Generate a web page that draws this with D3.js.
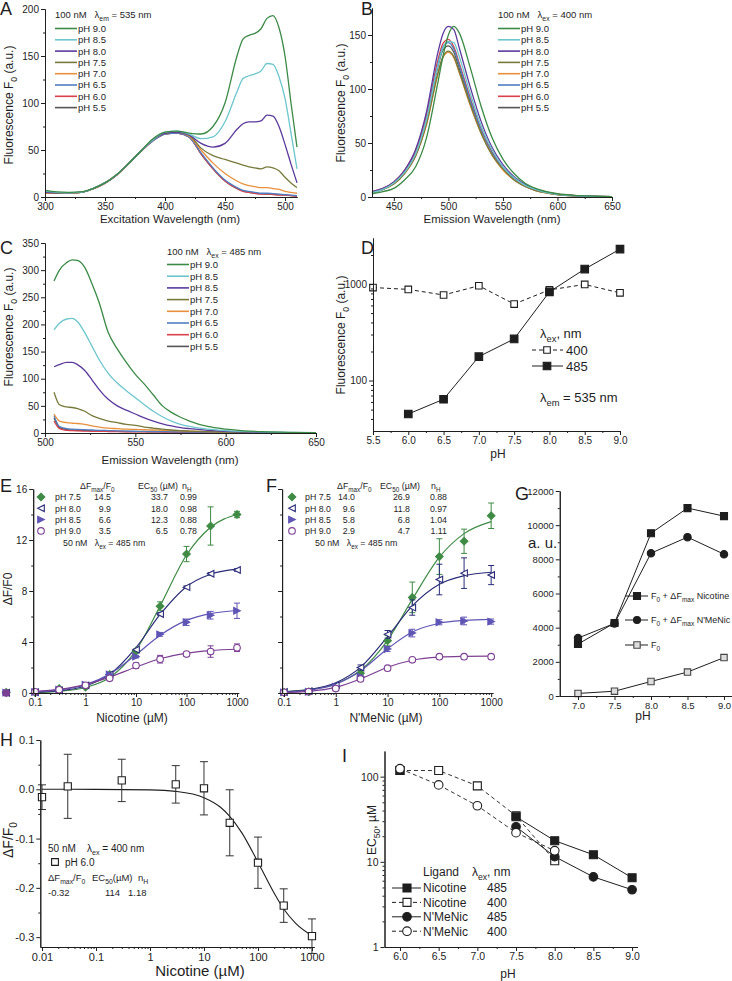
<!DOCTYPE html>
<html>
<head>
<meta charset="utf-8">
<script src="https://cdn.jsdelivr.net/npm/d3@7"></script>
<style>
  html, body { margin: 0; padding: 0; background: #fff; }
  svg text { font-family: "Liberation Sans", Arial, sans-serif; fill: #1e1e1e; white-space: pre; }
</style>
</head>
<body>
<svg id="fig" width="732" height="981"></svg>
<script>
'use strict';

/* ---------- data ---------- */
const specLabels  = ['pH 9.0', 'pH 8.5', 'pH 8.0', 'pH 7.5', 'pH 7.0', 'pH 6.5', 'pH 6.0', 'pH 5.5'];
const specLabelsC = ['pH 9.0', 'pH 8.5', 'pH 8.5', 'pH 7.5', 'pH 7.0', 'pH 6.5', 'pH 6.0', 'pH 5.5'];
const specColors  = ['#3b8a46', '#6cc6cc', '#5b3a9c', '#787a3a', '#e8903c', '#4f7ec2', '#d9424c', '#555555'];

// A: excitation spectra, em 535 nm
const exWl = [300,310,320,330,340,350,360,370,380,390,400,410,420,430,440,450,460,465,470,475,480,485,490,495,500,505,510];
const exA90 = [7,5.5,5,5.5,9,15,24,36,49,62,69,70,68,67,75,100,150,168,172,174,179,190,193,180,150,100,53];
const exA85 = [6,5,4.5,5,9,15,24,36,49,61,69,70,67,62,64,80,112,126,129,131,134,142,141,128,105,68,30];
const exA80 = [5,4.5,4.5,5,9,15,24,36,49,61,68,69,66,57,53,57,72,78,80,80,81,87,86,75,56,35,15];
const exA75 = [5,4.5,4.5,5,9,15,24,36,49,61,68,69,66,52,44,40,36,34,32,31,30,32,31,28,21,15,10];
const exA70 = [4,4,4,5,8.5,15,24,36,49,61,68,69,65,50,36,25,17,14,12,11,10,10,9,8,6,5,4];
const exA65 = [5,4.5,4.5,5,9,15,24,36,49,60,67,68,64,47,31,18,10,7,6,5,4,4,3.5,3,2.5,2,1.5];
const exA60 = [4,4,4,5,8.5,14.5,23.5,35.5,48.5,60,67,68,64,46,30,17,9,6,5,4,3,3,2.5,2,2,1.5,1];
const exA55 = [5,4.5,4.5,5,9,15,24,36,49,60,67,68,64,46,30,17,9,6.5,5,4,3.5,3,3,2.5,2,1.5,1];

// B: emission spectra, ex 400 nm
const emWlB = [430,440,450,460,470,480,490,495,500,505,510,520,530,540,550,560,570,580,590,600,620,650];
const emB90 = [3,5,8,16,28,55,104,130,150,158,152,120,84,55,35,22,13,8,5,3,1.3,0.3];
const emB85 = [4,7,13,23,40,72,120,138,144,143,130,96,66,44,28,18,11,7,4,2.5,1,0.3];
const emB80 = [5,8,14,25,44,79,132,151,158,155,138,102,70,46,30,19,12,7,4.5,2.7,1.1,0.3];
const emB75 = [4,7,12,22,38,68,113,130,135,130,116,86,59,39,26,16,10,6,3.8,2.3,1,0.3];
const emB70 = [4,7,12,22,38,67,112,129,134,129,115,85,59,39,25,16,10,6,3.7,2.3,1,0.3];
const emB65 = [4,7,13,23,40,72,121,139,143,137,122,90,62,41,27,17,10.5,6.4,4,2.4,1,0.3];
const emB60 = [5,8,14,25,43,76,125,142,146,139,124,92,63,42,27,17,10.5,6.5,4,2.4,1,0.3];
const emB55 = [4,7,13,23,40,71,119,136,140,134,119,88,61,40,26,16.5,10,6.2,3.9,2.3,1,0.3];

// C: emission spectra, ex 485 nm
const emWlC = [505,508,512,515,518,522,526,530,535,540,545,550,555,560,565,570,575,580,590,600,610,620,635,650];
const emC90 = [280,300,314,319,318,305,275,240,185,155,130,108,90,70,50,38,29,22,12,7,4,2.5,1.2,0.5];
const emC85 = [190,202,210,211,205,185,160,135,110,92,78,65,52,40,30,22,16,12,7,4.5,3,2,1,0.4];
const emC80 = [122,126,130,130,126,115,98,80,62,50,42,35,28,22,17,13,10,8,5,3,2,1.3,0.7,0.3];
const emC75 = [75,52,48,47,45,40,32,27,22,19,16,14,11,9,7,5.5,4.5,3.5,2.5,1.8,1.2,0.8,0.5,0.2];
const emC70 = [35,22,19,18,17.5,16,13,11,9,8,7,6.5,6,5.5,5,4.5,4,3.5,2.5,2,1.5,1,0.6,0.3];
const emC65 = [32,12,8,7,6.5,6,5.5,5,4.5,4,3.5,3.2,3,2.8,2.5,2.3,2,1.8,1.5,1.2,1,0.8,0.5,0.3];
const emC60 = [22,8,5,4.5,4,3.5,3,3,2.8,2.5,2.3,2.2,2,2,1.8,1.7,1.5,1.4,1.2,1,0.8,0.6,0.4,0.2];
const emC55 = [28,10,6,5.5,5,4.5,4,3.5,3.2,3,2.8,2.6,2.4,2.2,2,1.9,1.7,1.6,1.3,1.1,0.9,0.7,0.4,0.2];

// D: F0 vs pH (em 535 nm)
const dPh  = [5.5,6.0,6.5,7.0,7.5,8.0,8.5,9.0];
const d400 = [920,880,770,960,620,870,990,810];
const d485 = [null,45,64,177,270,830,1430,2300];

// E / F: dose response
const conc = [0.1,0.3,1,3,10,30,100,300,1000];
const nic75 = [0.05,0.35,0.45,1.45,3.3,6.8,10.9,13.1,14.0];
const nic80 = [0.06,0.2,0.6,1.45,3.4,6.2,8.3,9.35,9.65];
const nic85 = [0.08,0.25,0.65,1.45,2.85,4.6,5.55,6.1,6.45];
const nic90 = [0.1,0.25,0.6,1.15,2.15,2.65,3.05,3.25,3.55];
const nic75Err = [0,0,0,0.1,0.15,0.35,0.6,1.5,0.25];
const nic80Err = [0,0,0,0,0,0.1,0.1,0.1,0.1];
const nic85Err = [0,0,0,0,0.1,0.15,0.25,0.3,0.6];
const nic90Err = [0,0,0,0.1,0.2,0.3,0.15,0.45,0.3];
const nicFit75 = [0.046,0.134,0.43,1.21,3.35,6.83,10.82,13.0,14.0];
const nicFit80 = [0.061,0.176,0.55,1.46,3.56,6.16,8.34,9.31,9.71];
const nicFit85 = [0.094,0.242,0.65,1.48,3.0,4.53,5.70,6.23,6.47];
const nicFit90 = [0.13,0.29,0.66,1.24,2.04,2.69,3.13,3.33,3.43];
const nicZero = [0.05,0.02,0.03,0.0];

const mn75 = [0.05,0.1,0.4,1.55,4.1,7.5,10.7,11.9,13.9];
const mn80 = [0.08,0.15,0.6,2.0,4.6,6.7,8.9,9.4,9.25];
const mn85 = [0.05,0.1,0.5,1.3,3.45,4.7,5.55,5.65,5.6];
const mn90 = [0.05,0.1,0.35,1.1,1.95,2.6,2.85,2.85,2.85];
const mn75Err = [0,0,0,0.2,0.4,1.2,1.4,0.95,1.0];
const mn80Err = [0,0,0,0.2,0.3,0.6,1.2,1.2,0.75];
const mn85Err = [0,0,0,0.1,0.2,0.3,0.2,0.3,0.2];
const mn90Err = [0,0,0,0,0,0.1,0.1,0.1,0.1];
const mnFit75 = [0.10,0.26,0.73,1.77,4.13,7.34,10.65,12.5,13.44];
const mnFit80 = [0.093,0.265,0.80,2.01,4.42,6.83,8.53,9.2,9.47];
const mnFit85 = [0.071,0.217,0.69,1.74,3.47,4.78,5.47,5.69,5.77];
const mnFit90 = [0.04,0.13,0.44,1.10,2.02,2.57,2.81,2.87,2.89];

const doseLabels = ['pH 7.5', 'pH 8.0', 'pH 8.5', 'pH 9.0'];
const nicParams = [['14.5','33.7','0.99'], ['9.9','18.0','0.98'], ['6.6','12.3','0.88'], ['3.5','6.5','0.78']];
const mnParams  = [['14.0','26.9','0.88'], ['9.6','11.8','0.97'], ['5.8','6.8','1.04'], ['2.9','4.7','1.11']];
const doseColors = ['#3f8b45', '#2b2d78', '#5f55b4', '#7b3f93'];
const doseShapes = ['diamond', 'triLeft', 'triRight', 'circle'];
const doseFilled = [true, false, true, false];

// G: F0 + dFmax vs pH
const gPh  = [7.0,7.5,8.0,8.5,9.0];
const gNic = [3040,4270,9530,11000,10530];
const gMn  = [3390,4250,8360,9300,8300];
const gF0  = [150,280,850,1400,2250];

// H: pH 6.0, ex 400 nm
const hConc = [0.01,0.03,0.3,3,10,30,100,300,1000];
const hDF   = [-0.016,0.006,0.018,0.01,0.002,-0.068,-0.149,-0.236,-0.298];
const hErr  = [0.025,0.065,0.043,0.038,0.054,0.067,0.052,0.034,0.035];
const hFitX = [0.01,0.1,1,3,10,20,30,50,100,200,300,500,1000];
const hFitY = [0,-0.0001,-0.0012,-0.0043,-0.017,-0.036,-0.055,-0.088,-0.148,-0.211,-0.243,-0.272,-0.297];

// I: EC50 vs pH
const iPh    = [6.0,6.5,7.0,7.5,8.0,8.5,9.0];
const nic485 = [118,null,null,33.8,17.7,12.1,6.5];
const nic400 = [118,118,78,34.7,10.3,null,null];
const mn485  = [null,null,null,25.8,11.5,6.65,4.7];
const mn400  = [124,80,45.5,22,13.5,null,null];

/* ---------- helpers ---------- */
const svg = d3.select('#fig');
const INK = '#1e1e1e';

function rich(x, y, str, size, anchor = 'start', rotate = false) {
  const t = svg.append('text').attr('x', x).attr('y', y).attr('font-size', size).attr('text-anchor', anchor);
  if (rotate) t.attr('transform', `rotate(-90,${x},${y})`);
  let shift = 0;
  str.split(/(_\{[^}]*\})/).filter(Boolean).forEach(part => {
    const sub = part.startsWith('_{');
    const target = sub ? size * 0.3 : 0;
    t.append('tspan').attr('dy', target - shift).attr('font-size', sub ? size * 0.72 : size)
      .text(sub ? part.slice(2, -1) : part);
    shift = target;
  });
  return t;
}

function axis(orient, at, scale, major, minor, fmt, fs = 10) {
  const mk = orient === 'left' ? d3.axisLeft : d3.axisBottom;
  const tr = orient === 'left' ? `translate(${at},0)` : `translate(0,${at})`;
  const gm = svg.append('g').attr('transform', tr)
    .call(mk(scale).tickValues(minor).tickSizeInner(2).tickSizeOuter(0).tickFormat(''));
  const g = svg.append('g').attr('transform', tr)
    .call(mk(scale).tickValues(major).tickSizeInner(4).tickSizeOuter(0).tickPadding(2).tickFormat(fmt || ''));
  [gm, g].forEach(s => {
    s.selectAll('path, line').attr('stroke', INK).attr('stroke-width', 1);
    s.selectAll('text').attr('font-size', fs).attr('font-family', null).style('fill', INK);
    s.attr('font-family', null);
  });
  return g;
}

const logMinor = (lo, hi) => d3.range(Math.floor(Math.log10(lo)), Math.ceil(Math.log10(hi)))
  .flatMap(e => [2,3,4,5,6,7,8,9].map(m => m * 10 ** e)).filter(v => v > lo && v < hi);

function letter(x, y, s) {
  svg.append('text').attr('x', x).attr('y', y).attr('font-size', 18).text(s);
}

function marker(shape, filled, cx, cy, color, r = 3.5) {
  const paths = {
    diamond:  `M0,${-r * 1.15}L${r * 1.15},0L0,${r * 1.15}L${-r * 1.15},0Z`,
    triLeft:  `M${-r},0L${r},${-r}L${r},${r}Z`,
    triRight: `M${r},0L${-r},${-r}L${-r},${r}Z`,
    square:   `M${-r},${-r}H${r}V${r}H${-r}Z`
  };
  const el = shape === 'circle'
    ? svg.append('circle').attr('cx', cx).attr('cy', cy).attr('r', r)
    : svg.append('path').attr('d', paths[shape]).attr('transform', `translate(${cx},${cy})`);
  el.attr('fill', filled ? color : '#fff').attr('stroke', color).attr('stroke-width', 1.1);
  return el;
}

function spectra(xs, series, x, y) {
  const line = d3.line().x((d, i) => x(xs[i])).y(d => y(d)).curve(d3.curveMonotoneX);
  series.map((v, i) => [v, i]).reverse().forEach(([v, i]) =>
    svg.append('path').attr('d', line(v)).attr('fill', 'none')
      .attr('stroke', specColors[i]).attr('stroke-width', 1.3));
}

function specLegend(x0, yHead, y0, dy, labels, header, fs) {
  rich(x0, yHead, header, fs);
  labels.forEach((lab, i) => {
    const yy = y0 + i * dy;
    svg.append('line').attr('x1', x0).attr('x2', x0 + 22).attr('y1', yy).attr('y2', yy)
      .attr('stroke', specColors[i]).attr('stroke-width', 1.6);
    svg.append('text').attr('x', x0 + 23).attr('y', yy + fs * 0.36).attr('font-size', fs).text(lab);
  });
}

/* ---------- A ---------- */
const xA = d3.scaleLinear([300, 510], [45, 297]);
const yA = d3.scaleLinear([0, 200], [197, 9]);
spectra(exWl, [exA90, exA85, exA80, exA75, exA70, exA65, exA60, exA55], xA, yA);
axis('bottom', 197, xA, [300, 350, 400, 450, 500], [325, 375, 425, 475], d3.format('d'));
axis('left', 45, yA, [0, 50, 100, 150, 200], [25, 75, 125, 175], d3.format('d'));
specLegend(55, 18, 28.5, 11.3, specLabels, '100 nM   λ_{em} = 535 nm', 9.5);
rich(170, 223, 'Excitation Wavelength (nm)', 11.5, 'middle');
rich(13, 105, 'Fluorescence F_{0} (a.u.)', 12, 'middle', true);
letter(0, 15, 'A');

/* ---------- B ---------- */
const xB = d3.scaleLinear([430, 650], [372, 612]);
const yB = d3.scaleLinear([0, 175], [197, 8]);
spectra(emWlB, [emB90, emB85, emB80, emB75, emB70, emB65, emB60, emB55], xB, yB);
axis('bottom', 197, xB, [450, 500, 550, 600, 650], [475, 525, 575, 625], d3.format('d'));
axis('left', 372, yB, [0, 50, 100, 150], [25, 75, 125], d3.format('d'));
specLegend(498, 18, 28.5, 11.3, specLabels, '100 nM   λ_{ex} = 400 nm', 9.5);
rich(492, 223, 'Emission Wavelength (nm)', 11.5, 'middle');
rich(345, 103, 'Fluorescence F_{0} (a.u.)', 12, 'middle', true);
letter(361, 15, 'B');

/* ---------- C ---------- */
const xC = d3.scaleLinear([500, 650], [45, 316]);
const yC = d3.scaleLinear([0, 350], [433, 243]);
spectra(emWlC, [emC90, emC85, emC80, emC75, emC70, emC65, emC60, emC55], xC, yC);
axis('bottom', 433, xC, [500, 550, 600, 650], [525, 575, 625], d3.format('d'));
axis('left', 45, yC, d3.range(0, 351, 50), d3.range(25, 350, 50), d3.format('d'));
specLegend(167, 255, 264.5, 11.7, specLabelsC, '100 nM   λ_{ex} = 485 nm', 9.5);
rich(170, 464, 'Emission Wavelength (nm)', 11.5, 'middle');
rich(13, 327, 'Fluorescence F_{0} (a.u.)', 12, 'middle', true);
letter(0, 254, 'C');

/* ---------- D ---------- */
const xD = d3.scaleLinear([5.5, 9.0], [373, 620]);
const yD = d3.scaleLog([30, 3000], [431, 238]);
const lineD = d3.line().defined(d => d[1] != null).x(d => xD(d[0])).y(d => yD(d[1]));
svg.append('path').attr('d', lineD(d3.zip(dPh, d400))).attr('fill', 'none').attr('stroke', INK)
  .attr('stroke-dasharray', '4,3');
svg.append('path').attr('d', lineD(d3.zip(dPh, d485))).attr('fill', 'none').attr('stroke', INK);
dPh.forEach((p, i) => {
  marker('square', false, xD(p), yD(d400[i]), INK, 3.3);
  if (d485[i] != null) marker('square', true, xD(p), yD(d485[i]), INK, 3.8);
});
axis('bottom', 431, xD, d3.range(5.5, 9.01, 0.5), d3.range(5.75, 9, 0.5), d3.format('.1f'));
axis('left', 373, yD, [100, 1000], logMinor(30, 3000), d3.format('d'));
rich(540, 338, 'λ_{ex}, nm', 13);
svg.append('line').attr('x1', 532).attr('x2', 563).attr('y1', 350).attr('y2', 350).attr('stroke', INK).attr('stroke-dasharray', '4,3');
marker('square', false, 547, 350, INK, 3.3);
rich(566, 355, '400', 13);
svg.append('line').attr('x1', 532).attr('x2', 563).attr('y1', 366).attr('y2', 366).attr('stroke', INK);
marker('square', true, 547, 366, INK, 3.8);
rich(566, 371, '485', 13);
rich(540, 402, 'λ_{em} = 535 nm', 13);
rich(498, 458, 'pH', 12, 'middle');
rich(345, 335, 'Fluorescence F_{0} (a.u.)', 12, 'middle', true);
letter(361, 254, 'D');

/* ---------- E & F ---------- */
function dosePanel(x, y, series, errs, fits, params, labelCols, legendX, withLabels) {
  const fitLine = d3.line().x((d, i) => x(conc[i])).y(d => y(d)).curve(d3.curveMonotoneX);
  fits.forEach((f, k) => svg.append('path').attr('d', fitLine(f)).attr('fill', 'none')
    .attr('stroke', doseColors[k]).attr('stroke-width', 1.2));
  series.forEach((s, k) => {
    s.forEach((v, i) => {
      const e = errs[k][i];
      if (e > 0) {
        const cx = x(conc[i]);
        svg.append('path').attr('fill', 'none').attr('stroke', doseColors[k]).attr('stroke-width', 1)
          .attr('d', `M${cx},${y(v - e)}V${y(v + e)}M${cx - 3},${y(v - e)}h6M${cx - 3},${y(v + e)}h6`);
      }
      marker(doseShapes[k], doseFilled[k], x(conc[i]), y(v), doseColors[k], 3.3);
    });
  });
  axis('bottom', y(0), x, [0.1, 1, 10, 100, 1000], logMinor(0.092, 1080), d => String(d));
  axis('left', x.range()[0], y, [0, 4, 8, 12, 16], [2, 6, 10, 14], withLabels ? d3.format('d') : '');
  // legend table
  const [mx, lx, c1, c2, c3, h1, h2, h3] = labelCols;
  const fs = 8.8;
  rich(h1, 489, 'ΔF_{max}/F_{0}', fs);
  rich(h2, 489, 'EC_{50} (µM)', fs);
  rich(h3, 489, 'n_{H}', fs);
  doseLabels.forEach((lab, k) => {
    const yy = 497 + k * 11.3;
    marker(doseShapes[k], doseFilled[k], mx, yy, doseColors[k], 3.3);
    rich(lx, yy + 3.2, lab, fs);
    rich(c1, yy + 3.2, params[k][0], fs, 'end');
    rich(c2, yy + 3.2, params[k][1], fs, 'end');
    rich(c3, yy + 3.2, params[k][2], fs, 'end');
  });
  rich(legendX, 546, '50 nM   λ_{ex} = 485 nm', fs);
}

const xE = d3.scaleLog([0.092, 1080], [33.2, 238.7]);
const yE = d3.scaleLinear([0, 16], [693, 489]);
nicZero.forEach((v, k) => marker(doseShapes[k], true, xE.range()[0] - 27, yE(v), doseColors[k], 3.3));
dosePanel(xE, yE, [nic75, nic80, nic85, nic90], [nic75Err, nic80Err, nic85Err, nic90Err],
  [nicFit75, nicFit80, nicFit85, nicFit90], nicParams, [41, 55, 111, 168, 197, 80, 138, 182], 63, true);
rich(132, 722, 'Nicotine (µM)', 12, 'middle');
rich(12, 589, 'ΔF/F0', 12, 'middle', true);
letter(0, 492, 'E');

const xF = d3.scaleLog([0.092, 1080], [282.1, 492.9]);
dosePanel(xF, yE, [mn75, mn80, mn85, mn90], [mn75Err, mn80Err, mn85Err, mn90Err],
  [mnFit75, mnFit80, mnFit85, mnFit90], mnParams, [292, 305, 355, 410, 447, 337, 380, 431], 315, false);
rich(386, 722, "N'MeNic (µM)", 12, 'middle');
letter(266, 492, 'F');

/* ---------- G ---------- */
const xG = d3.scaleLinear([6.75, 9.1], [559.75, 731.3]);
const yG = d3.scaleLinear([0, 12000], [696, 491]);
const lineG = d3.line().x((d, i) => xG(gPh[i])).y(d => yG(d));
[gNic, gMn].forEach(s => svg.append('path').attr('d', lineG(s)).attr('fill', 'none').attr('stroke', INK));
svg.append('path').attr('d', lineG(gF0)).attr('fill', 'none').attr('stroke', INK);
gPh.forEach((p, i) => {
  marker('square', true, xG(p), yG(gNic[i]), INK, 3.5);
  marker('circle', true, xG(p), yG(gMn[i]), INK, 3.7);
  marker('square', false, xG(p), yG(gF0[i]), '#444', 3.2).attr('fill', '#ddd');
});
axis('bottom', 696, xG, [7.0, 7.5, 8.0, 8.5, 9.0], [7.25, 7.75, 8.25, 8.75], d3.format('.1f'), 9.5);
axis('left', 559.75, yG, d3.range(0, 12001, 2000), d3.range(1000, 12000, 2000), d3.format('d'), 9.5);
[['square', true, 'F_{0} + ΔF_{max} Nicotine', 596], ['circle', true, "F_{0} + ΔF_{max} N'MeNic", 620],
 ['square', false, 'F_{0}', 645]].forEach(([sh, fill, lab, yy]) => {
  svg.append('line').attr('x1', 625).attr('x2', 648).attr('y1', yy).attr('y2', yy).attr('stroke', INK);
  const m = marker(sh, fill, 637, yy, fill ? INK : '#444', fill ? 3.5 : 3.2);
  if (!fill) m.attr('fill', '#ddd');
  rich(651, yy + 3.2, lab, 9);
});
rich(528, 548, 'a. u.', 15);
rich(643, 720, 'pH', 12, 'middle');
letter(515, 500, 'G');

/* ---------- H ---------- */
const xH = d3.scaleLog([0.0093, 1100], [40.3, 314.2]);
const yH = d3.scaleLinear([-0.32, 0.1], [947, 740]);
svg.append('path').attr('d', d3.line().x((d, i) => xH(hFitX[i])).y(d => yH(d)).curve(d3.curveMonotoneX)(hFitY))
  .attr('fill', 'none').attr('stroke', INK).attr('stroke-width', 1.1);
hConc.forEach((c, i) => {
  const cx = xH(c), v = hDF[i], e = hErr[i];
  svg.append('path').attr('fill', 'none').attr('stroke', '#333').attr('stroke-width', 1)
    .attr('d', `M${cx},${yH(v - e)}V${yH(v + e)}M${cx - 4},${yH(v - e)}h8M${cx - 4},${yH(v + e)}h8`);
  marker('square', false, cx, yH(v), INK, 3.6);
});
axis('bottom', 947, xH, [0.01, 0.1, 1, 10, 100, 1000], logMinor(0.0093, 1100), d => String(d), 11);
axis('left', 40.3, yH, [0.1, 0, -0.1, -0.2, -0.3], [0.05, -0.05, -0.15, -0.25], d => d.toFixed(1), 11);
rich(48, 852, '50 nM    λ_{ex} = 400 nm', 10);
marker('square', false, 55, 862, INK, 3.4);
rich(65, 866, 'pH 6.0', 10);
rich(48, 881, 'ΔF_{max}/F_{0}', 9.5);
rich(92, 881, 'EC_{50}(µM)', 9.5);
rich(138, 881, 'n_{H}', 9.5);
rich(48, 896, '-0.32', 9.5);
rich(105, 896, '114', 9.5);
rich(128, 896, '1.18', 9.5);
rich(200, 976, 'Nicotine (µM)', 15, 'middle');
rich(13, 840, 'ΔF/F_{0}', 14, 'middle', true);
letter(0, 746, 'H');

/* ---------- I ---------- */
const xI = d3.scaleLinear([5.8, 9.07], [384.5, 637.5]);
const yI = d3.scaleLog([1, 200], [947, 751]);
const lineI = d3.line().defined(d => d != null).x((d, i) => xI(iPh[i])).y(d => yI(d));
[[nic400, true], [mn400, true], [nic485, false], [mn485, false]].forEach(([s, dash]) =>
  svg.append('path').attr('d', lineI(s)).attr('fill', 'none').attr('stroke', dash ? '#333' : INK)
    .attr('stroke-dasharray', dash ? '4,3' : null));
iPh.forEach((p, i) => {
  if (nic400[i] != null) marker('square', false, xI(p), yI(nic400[i]), INK, 4);
  if (nic485[i] != null) marker('square', true, xI(p), yI(nic485[i]), INK, 4);
  if (mn485[i] != null) marker('circle', true, xI(p), yI(mn485[i]), INK, 4.3);
  if (mn400[i] != null) marker('circle', false, xI(p), yI(mn400[i]), INK, 4.3);
});
axis('bottom', 947, xI, d3.range(6.0, 9.01, 0.5), d3.range(6.25, 9, 0.5), d3.format('.1f'), 10.5);
axis('left', 384.5, yI, [1, 10, 100], logMinor(1, 200), d3.format('d'), 10.5);
rich(423, 876, 'Ligand', 12);
rich(472, 876, 'λ_{ex}, nm', 12);
[['square', true, false, 'Nicotine', '485'], ['square', false, true, 'Nicotine', '400'],
 ['circle', true, false, "N'MeNic", '485'], ['circle', false, true, "N'MeNic", '400']].forEach(([sh, fill, dash, lab, ex], k) => {
  const yy = 888 + k * 14.4;
  svg.append('line').attr('x1', 392).attr('x2', 421).attr('y1', yy).attr('y2', yy).attr('stroke', INK)
    .attr('stroke-dasharray', dash ? '4,3' : null);
  marker(sh, fill, 407, yy, INK, sh === 'circle' ? 4.3 : 4);
  rich(423, yy + 4.3, lab, 12);
  rich(487, yy + 4.3, ex, 12);
});
rich(508, 978, 'pH', 12, 'middle');
rich(376, 830, 'EC_{50}, µM', 12, 'middle', true);
letter(342, 762, 'I');
</script>
</body>
</html>
